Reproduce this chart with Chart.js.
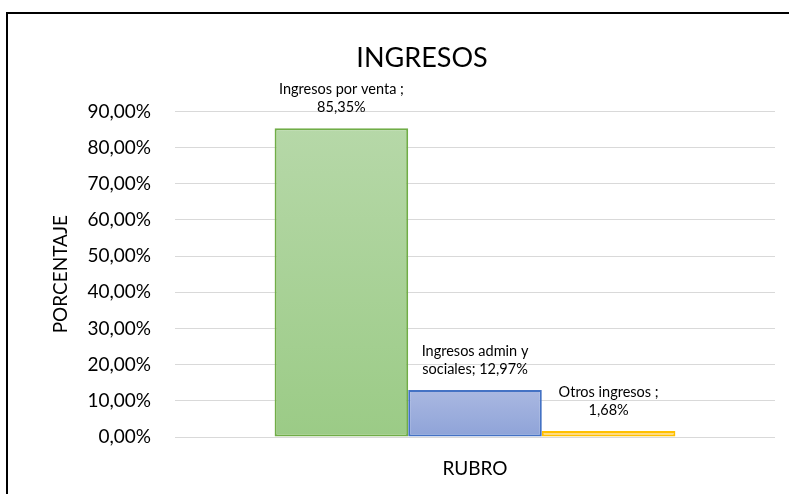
<!DOCTYPE html>
<html lang="es">
<head>
    <meta charset="UTF-8">
    <title>Ingresos</title>
    <script src="https://cdn.jsdelivr.net/npm/chart.js"></script>
    <style>
        html, body {
            margin: 0;
            padding: 0;
            background: #ffffff;
            overflow: hidden;
            width: 789px;
            height: 494px;
        }
        /* the chart frame runs past the right and bottom edge like in the screenshot */
        #frame {
            position: absolute;
            left: 6px;
            top: 12px;
            width: 828px;
            height: 490px;
            border: 2px solid #000;
        }
    </style>
</head>
<body>
    <div id="frame">
        <canvas id="myChart" width="828" height="490"></canvas>
    </div>

    <script>
        // data
        const categories = ['RUBRO'];
        const seriesNames = ['Ingresos por venta', 'Ingresos admin y sociales', 'Otros ingresos'];
        const seriesValues = [85.35, 12.97, 1.68];
        const labelLines = [
            ['Ingresos por venta ;', '85,35%'],
            ['Ingresos admin y', 'sociales; 12,97%'],
            ['Otros ingresos ;', '1,68%']
        ];
        const yTicks = [0, 10, 20, 30, 40, 50, 60, 70, 80, 90];

        const fontFamily = 'Lato, "Open Sans", sans-serif';

        // Excel-like colours: top, bottom, border
        const colours = [
            ['#b6d8a8', '#9bcb86', '#70ad47'],
            ['#aab8e1', '#8ea3d8', '#4472c4'],
            ['#ffe09a', '#ffd468', '#ffc000']
        ];

        // gradient per bar, from its top down to the zero line
        function barGradient(ctx, i) {
            const chart = ctx.chart;
            if (!chart.chartArea || !chart.scales.y) {
                return colours[i][1];
            }
            const y = chart.scales.y;
            const top = y.getPixelForValue(seriesValues[i]);
            const bottom = y.getPixelForValue(0);
            const g = chart.ctx.createLinearGradient(0, top, 0, bottom);
            g.addColorStop(0, colours[i][0]);
            g.addColorStop(1, colours[i][1]);
            return g;
        }

        // two-line labels above each bar
        const barLabels = {
            id: 'barLabels',
            afterDatasetsDraw(chart) {
                const c = chart.ctx;
                c.save();
                c.font = '14.5px ' + fontFamily;
                c.fillStyle = '#000';
                c.textAlign = 'center';
                c.textBaseline = 'middle';
                chart.data.datasets.forEach((ds, i) => {
                    const bar = chart.getDatasetMeta(i).data[0];
                    c.fillText(labelLines[i][0], bar.x, bar.y - 39);
                    c.fillText(labelLines[i][1], bar.x, bar.y - 21);
                });
                c.restore();
            }
        };

        const datasets = seriesNames.map((name, i) => ({
            label: name,
            data: [seriesValues[i]],
            backgroundColor: ctx => barGradient(ctx, i),
            borderColor: colours[i][2],
            borderWidth: 2,
            borderSkipped: false,
            barPercentage: 1,
            categoryPercentage: 0.668
        }));

        const ctx = document.getElementById('myChart').getContext('2d');
        const myChart = new Chart(ctx, {
            type: 'bar',
            data: {
                labels: categories,
                datasets: datasets
            },
            options: {
                responsive: false,
                animation: false,
                layout: {
                    padding: 0
                },
                plugins: {
                    legend: { display: false },
                    tooltip: { enabled: false },
                    title: {
                        display: true,
                        text: 'INGRESOS',
                        color: '#000',
                        font: { family: fontFamily, size: 27, weight: 'normal' },
                        padding: { top: 28, bottom: 37 }
                    }
                },
                scales: {
                    x: {
                        grid: { display: false },
                        border: { display: false },
                        ticks: {
                            color: '#000',
                            padding: 12,
                            font: { family: fontFamily, size: 19 }
                        },
                        afterFit(scale) {
                            scale.height = 67;
                        }
                    },
                    y: {
                        min: 0,
                        max: 90,
                        afterBuildTicks(scale) {
                            scale.ticks = yTicks.map(v => ({ value: v }));
                        },
                        grid: {
                            color: '#d9d9d9',
                            lineWidth: 1,
                            drawTicks: false
                        },
                        border: { display: false },
                        ticks: {
                            color: '#000',
                            padding: 24,
                            font: { family: fontFamily, size: 19 },
                            callback: v => v.toFixed(2).replace('.', ',') + '%'
                        },
                        title: {
                            display: true,
                            text: 'PORCENTAJE',
                            color: '#000',
                            font: { family: fontFamily, size: 19 },
                            padding: { top: 41, bottom: 0 }
                        },
                        afterFit(scale) {
                            scale.width = 167;
                        }
                    },
                    // empty right axis, only keeps the plot narrower than the frame
                    yRight: {
                        position: 'right',
                        display: true,
                        grid: { display: false },
                        border: { display: false },
                        ticks: { display: false },
                        afterFit(scale) {
                            scale.width = 61;
                        }
                    }
                }
            },
            plugins: [barLabels]
        });
    </script>
</body>
</html>
